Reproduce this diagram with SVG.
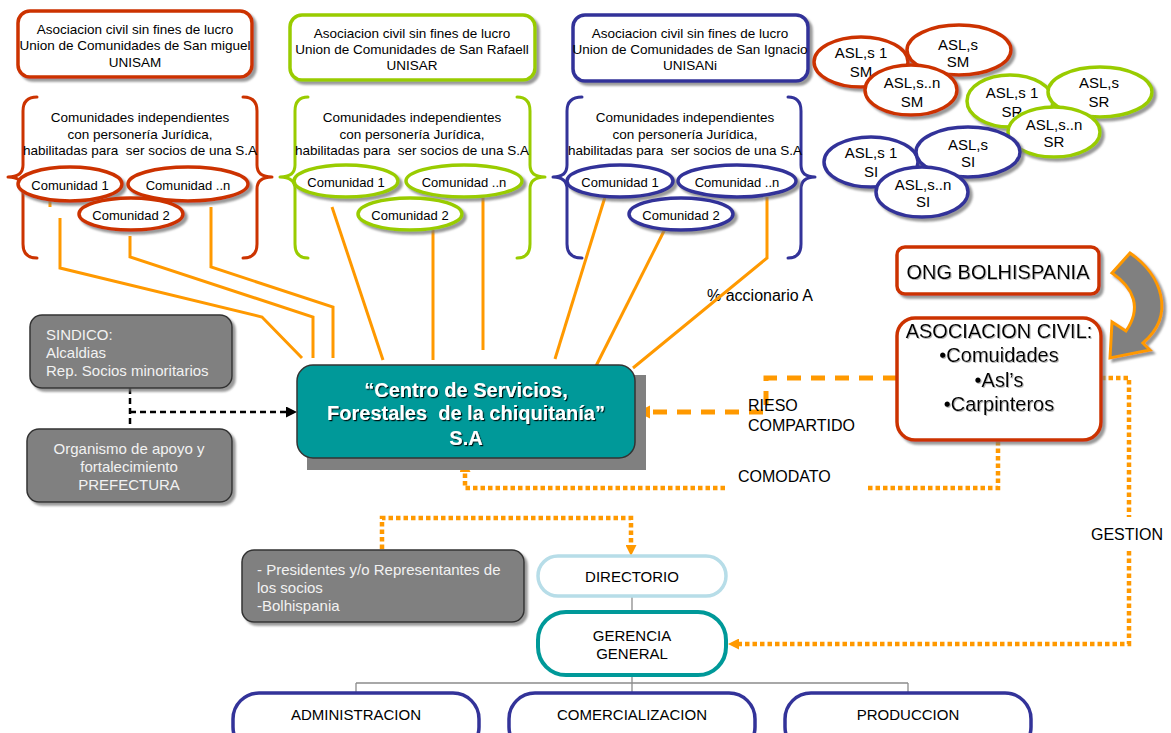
<svg xmlns="http://www.w3.org/2000/svg" width="1171" height="733" viewBox="0 0 1171 733">
<defs>
<style>
text{font-family:"Liberation Sans",Arial,Helvetica,sans-serif;fill:#000}
.c{text-anchor:middle}
.f13{font-size:13px}
.f135{font-size:13.5px}
.f15{font-size:15px}
.f16{font-size:16px}
.box{fill:#fff;stroke-width:3.5}
.red{stroke:#CC3300}
.grn{stroke:#99CC00}
.blu{stroke:#333399}
.brace{fill:none;stroke-width:3;stroke-linecap:round;stroke-linejoin:round}
.ol{fill:none;stroke:#FF9900;stroke-width:3}
.gbox{fill:#808080;stroke:#333;stroke-width:1.5}
.gtxt{fill:#F2F2F2;font-size:15px}
.dot{fill:none;stroke:#FF9900;stroke-width:4.5;stroke-dasharray:4.5 3}
.dash{fill:none;stroke:#FF9900;stroke-width:5;stroke-dasharray:14 10}
.tree{fill:none;stroke:#8c8c8c;stroke-width:1.3}
.big{font-size:20px}
</style>
<filter id="sh" x="-10%" y="-10%" width="130%" height="140%">
<feDropShadow dx="3" dy="3" stdDeviation="1" flood-color="#777" flood-opacity="0.75"/>
</filter>
<filter id="tsh" x="-5%" y="-20%" width="110%" height="150%">
<feDropShadow dx="1.2" dy="1.2" stdDeviation="0.3" flood-color="#000" flood-opacity="0.9"/>
</filter>
<filter id="lsh" x="-5%" y="-20%" width="110%" height="150%">
<feDropShadow dx="1" dy="1" stdDeviation="0.6" flood-color="#999" flood-opacity="0.7"/>
</filter>
<marker id="arrBig" viewBox="0 0 10 10" refX="0" refY="5" markerWidth="13" markerHeight="14" markerUnits="userSpaceOnUse" orient="auto">
<path d="M0,0 L10,5 L0,10 z" fill="#FF9900"/>
</marker>
<marker id="arrDot" viewBox="0 0 10 10" refX="0" refY="5" markerWidth="11" markerHeight="11" markerUnits="userSpaceOnUse" orient="auto">
<path d="M0,0 L10,5 L0,10 z" fill="#FF9900"/>
</marker>
<marker id="arrK" viewBox="0 0 10 10" refX="0" refY="5" markerWidth="11" markerHeight="11" markerUnits="userSpaceOnUse" orient="auto">
<path d="M0,0 L10,5 L0,10 z" fill="#000"/>
</marker>
</defs>

<rect width="1171" height="733" fill="#fff"/>

<!-- percentage label sits under the share line -->
<text class="f16" x="707" y="301">% accionario A</text>

<g id="connectors">
  <!-- shares from San Miguel communities -->
  <path class="ol" d="M50,196 V207"/>
  <path class="ol" d="M60,218 V268 L262,317 L302,358"/>
  <path class="ol" d="M130,236 V257 L313,317 V358"/>
  <path class="ol" d="M211,207 V267 L333,307 V358"/>
  <!-- shares from San Rafael communities -->
  <path class="ol" d="M332,207 L383,360"/>
  <path class="ol" d="M433,228 V360"/>
  <path class="ol" d="M483,197 V350"/>
  <!-- shares from San Ignacio communities -->
  <path class="ol" d="M605,197 L555,359"/>
  <path class="ol" d="M665,229 L595,368"/>
  <path class="ol" d="M767,197 V258 L633,368"/>

  <!-- control bodies to the company -->
  <path d="M130,388 V425 M130,412 H286" fill="none" stroke="#000" stroke-width="2.5" stroke-dasharray="6 4" marker-end="url(#arrK)"/>

  <!-- shared risk, loan, management -->
  <path class="dash" d="M897,378 H766 V412 H650" marker-end="url(#arrBig)"/>
  <path class="dot" d="M998,441 V488 H868 M725,488 H465 V472" marker-end="url(#arrDot)"/>
  <path class="dot" d="M1101,378 H1129 V517 M1129,551 V644 H739" marker-end="url(#arrDot)"/>
  <path class="dot" d="M382,549 V518 H631 V545" marker-end="url(#arrDot)"/>

  <!-- organisation chart -->
  <path class="tree" d="M632,596 V612 M632,675 V693 M356,683 H908 M356,683 V693 M908,683 V693"/>

  <!-- ONG to civil association -->
  <path d="M1130,253 C1162,275 1176,315 1143,343 L1150,350 L1110,358 L1112,322 L1126,331 C1142,308 1134,288 1112,273 Z" fill="#808080" stroke="#FF9900" stroke-width="3" stroke-linejoin="miter" filter="url(#sh)"/>
</g>

<g id="connector-labels">
  <text class="f16" x="748" y="411">RIESO</text>
  <text class="f16" x="748" y="431">COMPARTIDO</text>
  <text class="f16" x="738" y="482">COMODATO</text>
  <text class="f16" x="1091" y="540">GESTION</text>
</g>

<!-- San Miguel -->
<g id="unisam">
  <rect class="box red" x="18" y="11" width="234" height="66" rx="12" filter="url(#sh)"/>
  <text class="c f135" x="135" y="34">Asociacion civil sin fines de lucro</text>
  <text class="c f135" x="135" y="50">Union de Comunidades de San miguel</text>
  <text class="c f135" x="135" y="67">UNISAM</text>
</g>
<g id="comunidades-sm">
  <path class="brace red" d="M37,97 Q23,97 23,111 V165 Q23,177 8,177 Q23,177 23,189 V244 Q23,258 37,258"/>
  <path class="brace red" d="M243,97 Q257,97 257,111 V165 Q257,177 272,177 Q257,177 257,189 V244 Q257,258 243,258"/>
  <text class="c f135" x="140" y="122">Comunidades independientes</text>
  <text class="c f135" x="140" y="139">con personería Jurídica,</text>
  <text class="c f135" x="140" y="155" xml:space="preserve">habilitadas para  ser socios de una S.A</text>
</g>
<g id="sm-comunidad-1">
  <ellipse class="box red" cx="70" cy="184" rx="52" ry="17" filter="url(#sh)"/>
  <text class="c f13" x="70" y="190">Comunidad 1</text>
</g>
<g id="sm-comunidad-n">
  <ellipse class="box red" cx="188" cy="184" rx="60" ry="17" filter="url(#sh)"/>
  <text class="c f13" x="188" y="190">Comunidad ..n</text>
</g>
<g id="sm-comunidad-2">
  <ellipse class="box red" cx="131" cy="214" rx="52" ry="16" filter="url(#sh)"/>
  <text class="c f13" x="131" y="220">Comunidad 2</text>
</g>

<!-- San Rafael -->
<g id="unisar">
  <rect class="box grn" x="290" y="15" width="245" height="65" rx="12" filter="url(#sh)"/>
  <text class="c f135" x="412" y="38">Asociacion civil sin fines de lucro</text>
  <text class="c f135" x="412" y="54">Union de Comunidades de San Rafaell</text>
  <text class="c f135" x="412" y="70">UNISAR</text>
</g>
<g id="comunidades-sr">
  <path class="brace grn" d="M308,97 Q295,97 295,111 V165 Q295,177 280,177 Q295,177 295,189 V244 Q295,258 308,258"/>
  <path class="brace grn" d="M517,97 Q530,97 530,111 V165 Q530,177 545,177 Q530,177 530,189 V244 Q530,258 517,258"/>
  <text class="c f135" x="412" y="122">Comunidades independientes</text>
  <text class="c f135" x="412" y="139">con personería Jurídica,</text>
  <text class="c f135" x="412" y="155" xml:space="preserve">habilitadas para  ser socios de una S.A</text>
</g>
<g id="sr-comunidad-1">
  <ellipse class="box grn" cx="346" cy="181" rx="52" ry="16" filter="url(#sh)"/>
  <text class="c f13" x="346" y="187">Comunidad 1</text>
</g>
<g id="sr-comunidad-n">
  <ellipse class="box grn" cx="464" cy="181" rx="58" ry="16" filter="url(#sh)"/>
  <text class="c f13" x="464" y="187">Comunidad ..n</text>
</g>
<g id="sr-comunidad-2">
  <ellipse class="box grn" cx="410" cy="214" rx="52" ry="16" filter="url(#sh)"/>
  <text class="c f13" x="410" y="220">Comunidad 2</text>
</g>

<!-- San Ignacio -->
<g id="unisani">
  <rect class="box blu" x="573" y="15" width="235" height="66" rx="12" filter="url(#sh)"/>
  <text class="c f135" x="690" y="38">Asociacion civil sin fines de lucro</text>
  <text class="c f135" x="690" y="54">Union de Comunidades de San Ignacio</text>
  <text class="c f135" x="690" y="70">UNISANi</text>
</g>
<g id="comunidades-si">
  <path class="brace blu" d="M582,97 Q567,97 567,111 V165 Q567,177 553,177 Q567,177 567,189 V244 Q567,258 582,258"/>
  <path class="brace blu" d="M788,97 Q801,97 801,111 V165 Q801,177 815,177 Q801,177 801,189 V244 Q801,258 788,258"/>
  <text class="c f135" x="685" y="122">Comunidades independientes</text>
  <text class="c f135" x="685" y="139">con personería Jurídica,</text>
  <text class="c f135" x="685" y="155" xml:space="preserve">habilitadas para  ser socios de una S.A</text>
</g>
<g id="si-comunidad-1">
  <ellipse class="box blu" cx="620" cy="181" rx="53" ry="16" filter="url(#sh)"/>
  <text class="c f13" x="620" y="187">Comunidad 1</text>
</g>
<g id="si-comunidad-n">
  <ellipse class="box blu" cx="737" cy="181" rx="59" ry="16" filter="url(#sh)"/>
  <text class="c f13" x="737" y="187">Comunidad ..n</text>
</g>
<g id="si-comunidad-2">
  <ellipse class="box blu" cx="681" cy="214" rx="52" ry="16" filter="url(#sh)"/>
  <text class="c f13" x="681" y="220">Comunidad 2</text>
</g>

<!-- ASL clusters -->
<g id="asl-sm-1">
  <ellipse class="box red" cx="861" cy="62" rx="47" ry="25" filter="url(#sh)"/>
  <text class="c f15" x="861" y="58">ASL,s 1</text>
  <text class="c f15" x="861" y="77">SM</text>
</g>
<g id="asl-sm">
  <ellipse class="box red" cx="959" cy="50" rx="52" ry="25" filter="url(#sh)"/>
  <text class="c f15" x="958" y="50">ASL,s</text>
  <text class="c f15" x="958" y="67">SM</text>
</g>
<g id="asl-sm-n">
  <ellipse class="box red" cx="911" cy="90" rx="46" ry="25" filter="url(#sh)"/>
  <text class="c f15" x="912" y="88">ASL,s..n</text>
  <text class="c f15" x="912" y="107">SM</text>
</g>
<g id="asl-sr-1">
  <ellipse class="box grn" cx="1010" cy="101" rx="43" ry="26" filter="url(#sh)"/>
  <text class="c f15" x="1012" y="98">ASL,s 1</text>
  <text class="c f15" x="1012" y="117">SR</text>
</g>
<g id="asl-sr">
  <ellipse class="box grn" cx="1100" cy="92" rx="52" ry="25" filter="url(#sh)"/>
  <text class="c f15" x="1099" y="88">ASL,s</text>
  <text class="c f15" x="1099" y="107">SR</text>
</g>
<g id="asl-sr-n">
  <ellipse class="box grn" cx="1054" cy="132" rx="46" ry="25" filter="url(#sh)"/>
  <text class="c f15" x="1054" y="130">ASL,s..n</text>
  <text class="c f15" x="1054" y="147">SR</text>
</g>
<g id="asl-si-1">
  <ellipse class="box blu" cx="871" cy="162" rx="47" ry="25" filter="url(#sh)"/>
  <text class="c f15" x="871" y="158">ASL,s 1</text>
  <text class="c f15" x="871" y="177">SI</text>
</g>
<g id="asl-si">
  <ellipse class="box blu" cx="968" cy="152" rx="52" ry="25" filter="url(#sh)"/>
  <text class="c f15" x="968" y="150">ASL,s</text>
  <text class="c f15" x="968" y="167">SI</text>
</g>
<g id="asl-si-n">
  <ellipse class="box blu" cx="922" cy="192" rx="46" ry="25" filter="url(#sh)"/>
  <text class="c f15" x="923" y="190">ASL,s..n</text>
  <text class="c f15" x="923" y="207">SI</text>
</g>

<!-- company -->
<g id="centro-servicios">
  <rect x="307" y="375" width="339" height="95" fill="#808080"/>
  <rect x="297" y="365" width="338" height="93" rx="16" fill="#009999" stroke="#333" stroke-width="1.5"/>
  <g filter="url(#tsh)" font-weight="bold" font-size="20">
    <text class="c" x="466" y="397" style="fill:#fff">“Centro de Servicios,</text>
    <text class="c" x="466" y="420" style="fill:#fff" xml:space="preserve">Forestales  de la chiquitanía”</text>
    <text class="c" x="466" y="445" style="fill:#fff">S.A</text>
  </g>
</g>

<g id="sindico">
  <rect class="gbox" x="30" y="315" width="202" height="73" rx="12" filter="url(#sh)"/>
  <text class="gtxt" x="46" y="340" style="fill:#F2F2F2">SINDICO:</text>
  <text class="gtxt" x="46" y="358" style="fill:#F2F2F2">Alcaldias</text>
  <text class="gtxt" x="46" y="376" style="fill:#F2F2F2">Rep. Socios minoritarios</text>
</g>
<g id="prefectura">
  <rect class="gbox" x="27" y="429" width="205" height="73" rx="12" filter="url(#sh)"/>
  <text class="gtxt c" x="129" y="454" style="fill:#F2F2F2">Organismo de apoyo y</text>
  <text class="gtxt c" x="129" y="472" style="fill:#F2F2F2">fortalecimiento</text>
  <text class="gtxt c" x="129" y="490" style="fill:#F2F2F2">PREFECTURA</text>
</g>

<!-- right side -->
<g id="ong-bolhispania">
  <rect class="box red" x="897" y="247" width="202" height="47" rx="8" filter="url(#sh)"/>
  <text class="c" x="998" y="279" font-size="20" filter="url(#lsh)">ONG BOLHISPANIA</text>
</g>
<g id="asociacion-civil">
  <rect class="box red" x="897" y="318" width="204" height="122" rx="18" filter="url(#sh)"/>
  <g filter="url(#lsh)">
    <text class="c big" x="999" y="338">ASOCIACION CIVIL:</text>
    <text class="c big" x="999" y="362">•Comuidades</text>
    <text class="c big" x="999" y="387">•Asl’s</text>
    <text class="c big" x="999" y="411">•Carpinteros</text>
  </g>
</g>

<!-- board and management -->
<g id="socios-representantes">
  <rect class="gbox" x="242" y="550" width="282" height="72" rx="12" filter="url(#sh)"/>
  <text class="gtxt" x="257" y="575" style="fill:#F2F2F2">- Presidentes y/o Representantes de</text>
  <text class="gtxt" x="257" y="593" style="fill:#F2F2F2">los socios</text>
  <text class="gtxt" x="257" y="611" style="fill:#F2F2F2">-Bolhispania</text>
</g>
<g id="directorio">
  <rect x="538" y="556" width="188" height="40" rx="20" fill="#fff" stroke="#B7DDE8" stroke-width="3.5"/>
  <text class="c f15" x="632" y="582">DIRECTORIO</text>
</g>
<g id="gerencia-general">
  <rect x="538" y="612" width="188" height="63" rx="28" fill="#fff" stroke="#009999" stroke-width="4"/>
  <text class="c f15" x="632" y="641">GERENCIA</text>
  <text class="c f15" x="632" y="659">GENERAL</text>
</g>
<g id="administracion">
  <rect class="box blu" x="233" y="693" width="246" height="60" rx="26" stroke-width="4"/>
  <text class="c f15" x="356" y="720">ADMINISTRACION</text>
</g>
<g id="comercializacion">
  <rect class="box blu" x="509" y="693" width="246" height="60" rx="26" stroke-width="4"/>
  <text class="c f15" x="632" y="720">COMERCIALIZACION</text>
</g>
<g id="produccion">
  <rect class="box blu" x="785" y="693" width="246" height="60" rx="26" stroke-width="4"/>
  <text class="c f15" x="908" y="720">PRODUCCION</text>
</g>
</svg>
